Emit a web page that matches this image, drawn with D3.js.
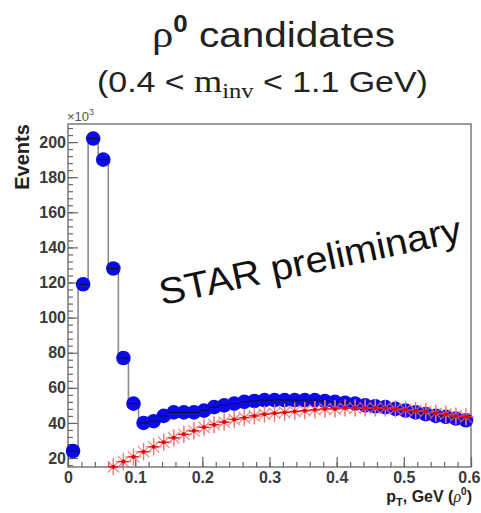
<!DOCTYPE html>
<html>
<head>
<meta charset="utf-8">
<script src="https://cdn.jsdelivr.net/npm/d3@7"></script>
<style>
  body { margin: 0; background: #fff; }
  svg { display: block; font-family: "Liberation Sans", Arial, sans-serif; }
</style>
</head>
<body>
<div id="chart"></div>
<script>
// Chart size matches the window
var svgWidth = 481;
var svgHeight = 513;

// Bins of the pT histogram (GeV), 0.015 wide
var binWidth = 0.015;
var binCenters = d3.range(40).map(i => 0.0075 + i * binWidth);

// Blue: all rho0 candidates (x10^3 events)
var candidates = [24, 119, 202, 190, 128, 77, 51, 40, 41, 44,
                  46, 46, 46, 47, 49, 50, 51, 52, 52.5, 53,
                  53, 53, 53, 53, 53, 52.5, 52, 51.5, 51, 50,
                  49.5, 49, 48, 47, 46, 45, 44, 43.5, 42.5, 41.5];

// Red: second distribution, starts at the 5th bin
var redStart = 4;
var reference = [15, 18, 20.7, 23.6, 26.4, 29, 31.5, 33.5, 35.5, 37.5,
                 39, 40.5, 42, 43, 44, 45, 45.5, 46, 46.5, 47,
                 47.5, 48, 48, 48.5, 48.5, 48.5, 48.5, 48.5, 48, 47.5,
                 47, 46.5, 45.5, 45, 44, 43.5];
var referenceErr = 5;

// Tick values
var xTicks = [0, 0.1, 0.2, 0.3, 0.4, 0.5, 0.6];
var yTicks = [20, 40, 60, 80, 100, 120, 140, 160, 180, 200];

var frame = { left: 68, right: 471, top: 124, bottom: 467 };

var svg = d3.select("#chart")
    .append("svg")
    .attr("width", svgWidth)
    .attr("height", svgHeight);

var x = d3.scaleLinear().domain([0, 0.6]).range([frame.left, frame.right]);
var y = d3.scaleLinear().domain([14.9, 210.3]).range([frame.bottom, frame.top]);

// Minor ticks first, then major ticks with labels
var minorX = d3.range(0, 0.6001, 0.02).map(v => +v.toFixed(3));
var minorY = d3.range(16, 210, 4);

svg.append("g")
    .attr("transform", `translate(0, ${frame.bottom})`)
    .call(d3.axisBottom(x).tickValues(minorX).tickSize(-5).tickSizeOuter(0).tickFormat(""));
svg.append("g")
    .attr("transform", `translate(${frame.left}, 0)`)
    .call(d3.axisLeft(y).tickValues(minorY).tickSize(-5).tickSizeOuter(0).tickFormat(""));

var xAxisG = svg.append("g")
    .attr("transform", `translate(0, ${frame.bottom})`)
    .call(d3.axisBottom(x).tickValues(xTicks).tickSize(-10).tickSizeOuter(0).tickPadding(5)
        .tickFormat(d => d === 0 ? "0" : d3.format(".1f")(d)));
svg.append("g")
    .attr("transform", `translate(${frame.left}, 0)`)
    .call(d3.axisLeft(y).tickValues(yTicks).tickSize(-10).tickSizeOuter(0).tickPadding(2));

svg.selectAll(".domain").remove();
svg.selectAll(".tick line").attr("stroke", "#666").attr("stroke-width", 1.2);
svg.selectAll(".tick text")
    .attr("font-family", "Liberation Sans, Arial, sans-serif")
    .attr("font-size", 16)
    .attr("font-weight", "bold")
    .attr("fill", "#3a3a3a");

// Last x label sits at the window edge: keep it inside
xAxisG.selectAll(".tick text")
    .filter(d => d === 0.6)
    .attr("text-anchor", "end")
    .attr("x", 480 - frame.right);

// Frame around the plot
svg.append("rect")
    .attr("x", frame.left)
    .attr("y", frame.top)
    .attr("width", frame.right - frame.left)
    .attr("height", frame.bottom - frame.top)
    .attr("fill", "none")
    .attr("stroke", "#666")
    .attr("stroke-width", 1.3);

var plot = svg.append("g");

// Blue histogram outline (grey steps)
var stepPts = [];
candidates.forEach(function(v, i) {
    stepPts.push([binCenters[i] - binWidth / 2, v]);
    stepPts.push([binCenters[i] + binWidth / 2, v]);
});
plot.append("path")
    .attr("d", d3.line().x(d => x(d[0])).y(d => y(d[1]))(stepPts))
    .attr("fill", "none")
    .attr("stroke", "#8c8c8c")
    .attr("stroke-width", 1.6);

// Blue markers
plot.selectAll("circle.blue")
    .data(candidates)
    .enter()
    .append("circle")
    .attr("class", "blue")
    .attr("cx", (d, i) => x(binCenters[i]))
    .attr("cy", d => y(d))
    .attr("r", 7.3)
    .attr("fill", "#0b0bea");

// Black bin-width bars across the markers
plot.selectAll("line.bw")
    .data(candidates)
    .enter()
    .append("line")
    .attr("class", "bw")
    .attr("x1", (d, i) => x(binCenters[i] - binWidth / 2))
    .attr("x2", (d, i) => x(binCenters[i] + binWidth / 2))
    .attr("y1", d => y(d))
    .attr("y2", d => y(d))
    .attr("stroke", "#111")
    .attr("stroke-width", 1);

// Red series: error bars, asterisk markers, centre line
var redData = reference.map((v, i) => ({ c: binCenters[redStart + i], v: v }));

plot.selectAll("line.err")
    .data(redData)
    .enter()
    .append("line")
    .attr("class", "err")
    .attr("x1", d => x(d.c))
    .attr("x2", d => x(d.c))
    .attr("y1", d => y(d.v - referenceErr))
    .attr("y2", d => y(d.v + referenceErr))
    .attr("stroke", "#f19090")
    .attr("stroke-width", 1.2);

var star = plot.selectAll("g.star")
    .data(redData)
    .enter()
    .append("g")
    .attr("class", "star")
    .attr("transform", d => `translate(${x(d.c)}, ${y(d.v)})`);
[0, 45, 90, 135].forEach(function(a) {
    var r = 8;
    var dx = r * Math.cos(a * Math.PI / 180);
    var dy = r * Math.sin(a * Math.PI / 180);
    star.append("line")
        .attr("x1", -dx).attr("y1", -dy)
        .attr("x2", dx).attr("y2", dy)
        .attr("stroke", "#f07070")
        .attr("stroke-opacity", 0.85)
        .attr("stroke-width", 1.2);
});

plot.selectAll("line.rbw")
    .data(redData)
    .enter()
    .append("line")
    .attr("class", "rbw")
    .attr("x1", d => x(d.c - binWidth / 2))
    .attr("x2", d => x(d.c + binWidth / 2))
    .attr("y1", d => y(d.v))
    .attr("y2", d => y(d.v))
    .attr("stroke", "#e01010")
    .attr("stroke-width", 1.3);

plot.selectAll("circle.rdot")
    .data(redData)
    .enter()
    .append("circle")
    .attr("class", "rdot")
    .attr("cx", d => x(d.c))
    .attr("cy", d => y(d.v))
    .attr("r", 2)
    .attr("fill", "#e00000");

// Helper: stretch a text horizontally so it covers [left, left+width]
function fitText(t, left, width, baseline) {
    var bb = t.node().getBBox();
    var sx = width / bb.width;
    t.attr("transform", `translate(${left - bb.x * sx}, ${baseline}) scale(${sx}, 1)`);
}

// Title line 1
var t1 = svg.append("text").attr("fill", "#222");
t1.append("tspan").attr("font-family", "Liberation Serif, serif").attr("font-size", 38).text("ρ");
t1.append("tspan").attr("font-size", 23).attr("font-weight", "bold").attr("dy", -15).text("0");
t1.append("tspan").attr("font-size", 36).attr("dy", 15).text(" candidates");
fitText(t1, 152, 243, 47);

// Title line 2
var t2 = svg.append("text").attr("fill", "#222");
t2.append("tspan").attr("font-size", 29).text("(0.4 < ");
t2.append("tspan").attr("font-family", "Liberation Serif, serif").attr("font-size", 31).text("m");
t2.append("tspan").attr("font-family", "Liberation Serif, serif").attr("font-size", 21).attr("dy", 6).text("inv");
t2.append("tspan").attr("font-size", 29).attr("dy", -6).text(" < 1.1 GeV)");
fitText(t2, 97, 331, 92);

// Exponent label above y axis
var exp = svg.append("text")
    .attr("x", 67).attr("y", 121)
    .attr("font-size", 13)
    .attr("fill", "#555");
exp.append("tspan").text("×10");
exp.append("tspan").attr("font-size", 9).attr("dy", -6).text("3");

// Y axis title
svg.append("text")
    .attr("transform", "translate(29, 157) rotate(-90)")
    .attr("text-anchor", "middle")
    .attr("font-size", 20)
    .attr("font-weight", "bold")
    .attr("fill", "#222")
    .text("Events");

// X axis title
var xt = svg.append("text")
    .attr("x", 472).attr("y", 502)
    .attr("text-anchor", "end")
    .attr("font-size", 16)
    .attr("font-weight", "bold")
    .attr("fill", "#222");
xt.append("tspan").text("p");
xt.append("tspan").attr("font-size", 11).attr("dy", 4).text("T");
xt.append("tspan").attr("dy", -4).text(", GeV (");
xt.append("tspan").attr("font-family", "Liberation Serif, serif").attr("font-style", "italic").attr("font-weight", "normal").text("ρ");
xt.append("tspan").attr("font-size", 10).attr("dy", -7).text("0");
xt.append("tspan").attr("dy", 7).text(")");

// Watermark
svg.append("text")
    .attr("transform", "translate(310, 261) rotate(-12)")
    .attr("text-anchor", "middle")
    .attr("dominant-baseline", "central")
    .attr("font-size", 37)
    .attr("textLength", 308)
    .attr("lengthAdjust", "spacingAndGlyphs")
    .attr("fill", "#111")
    .text("STAR preliminary");
</script>
</body>
</html>
